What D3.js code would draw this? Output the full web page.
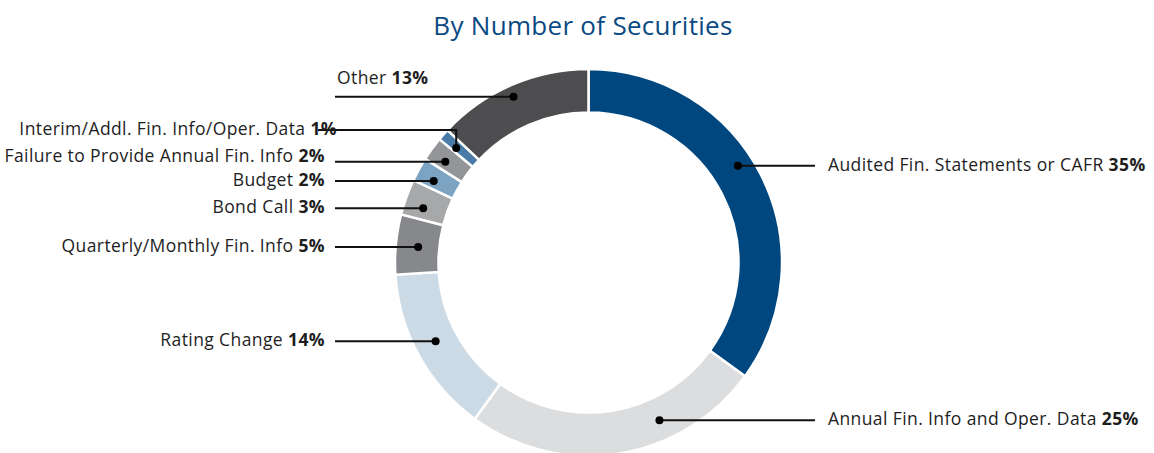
<!DOCTYPE html>
<html>
<head>
<meta charset="utf-8">
<script src="https://cdn.jsdelivr.net/npm/d3@7/dist/d3.min.js"></script>
<style>
  body { margin: 0; background: #fff; }
  svg { display: block; font-family: "Open Sans", Lato, sans-serif; }
</style>
</head>
<body>
<div id="chart"></div>
<script>
// data, clockwise from 12 o'clock
const categories = [
  "Audited Fin. Statements or CAFR",
  "Annual Fin. Info and Oper. Data",
  "Rating Change",
  "Quarterly/Monthly Fin. Info",
  "Bond Call",
  "Budget",
  "Failure to Provide Annual Fin. Info",
  "Interim/Addl. Fin. Info/Oper. Data",
  "Other"
];
const shares = [35, 25, 14, 5, 3, 2, 2, 1, 13];
const colors = ["#00477f", "#dcdddf", "#ccdae5", "#87888b", "#a7a8aa",
  "#7ca3c2", "#939598", "#4a7ba6", "#4d4d4f"];

// where the leader dot sits inside each slice (0 = start, 1 = end) and how far out
const dotAt = [0.453, 0.331, 0.53, 0.49, 0.35, 0.36, 0.375, 0.36, 0.48];
const dotRad = [178, 173, 172, 171, 174, 175, 175, 175, 182];

const width = 1154, height = 453;
const cx = 588.5, cy = 262.5;
const outerR = 193.5, innerR = 150;

const svg = d3.select("#chart").append("svg")
  .attr("width", width)
  .attr("height", height);

svg.append("text")
  .attr("x", 583)
  .attr("y", 28)
  .attr("text-anchor", "middle")
  .attr("dominant-baseline", "middle")
  .attr("fill", "#0b4a82")
  .style("font-size", "26px")
  .style("letter-spacing", "0.3px")
  .text("By Number of Securities");

const data = categories.map((c, i) => ({name: c, value: shares[i], color: colors[i], t: dotAt[i], r: dotRad[i]}));

const pie = d3.pie().value(d => d.value).sort(null);
const arc = d3.arc().innerRadius(innerR).outerRadius(outerR);

const g = svg.append("g").attr("transform", "translate(" + cx + "," + cy + ")");

const arcs = pie(data);

g.selectAll("path")
  .data(arcs)
  .enter().append("path")
  .attr("d", arc)
  .attr("fill", d => d.data.color)
  .attr("stroke", "#fff")
  .attr("stroke-width", 2.5);

// leader lines + labels
const leftLineX = 335, rightLineX = 815;
const leftTextX = 325, rightTextX = 828;

arcs.forEach(a => {
  const ang = a.startAngle + a.data.t * (a.endAngle - a.startAngle);
  const px = cx + a.data.r * Math.sin(ang);
  const py = cy - a.data.r * Math.cos(ang);
  const right = px > cx;
  const name = a.data.name;

  let pts, tx, ty, anchor = right ? "start" : "end";
  if (name === "Other") {
    pts = [[leftLineX, py], [px, py]];
    tx = 337; ty = py - 18; anchor = "start";
  } else if (name.startsWith("Interim")) {
    const ey = py - 18;
    pts = [[318, ey], [px, ey], [px, py]];
    tx = 337; ty = ey;
  } else if (right) {
    pts = [[px, py], [rightLineX, py]];
    tx = rightTextX; ty = py;
  } else {
    pts = [[leftLineX, py], [px, py]];
    tx = leftTextX; ty = name.startsWith("Failure") ? py - 5 : py;
  }

  svg.append("path")
    .attr("d", d3.line()(pts))
    .attr("fill", "none")
    .attr("stroke", "#111")
    .attr("stroke-width", 2);

  svg.append("circle")
    .attr("cx", px)
    .attr("cy", py)
    .attr("r", 4)
    .attr("fill", "#000");

  const label = svg.append("text")
    .attr("x", tx)
    .attr("y", ty)
    .attr("text-anchor", anchor)
    .attr("dominant-baseline", "middle")
    .attr("fill", "#1e1e1e")
    .style("font-size", "17.5px")
    .style("letter-spacing", "0.4px");
  label.append("tspan").text(name + " ");
  label.append("tspan").attr("font-weight", "bold").text(a.data.value + "%");
});
</script>
</body>
</html>
